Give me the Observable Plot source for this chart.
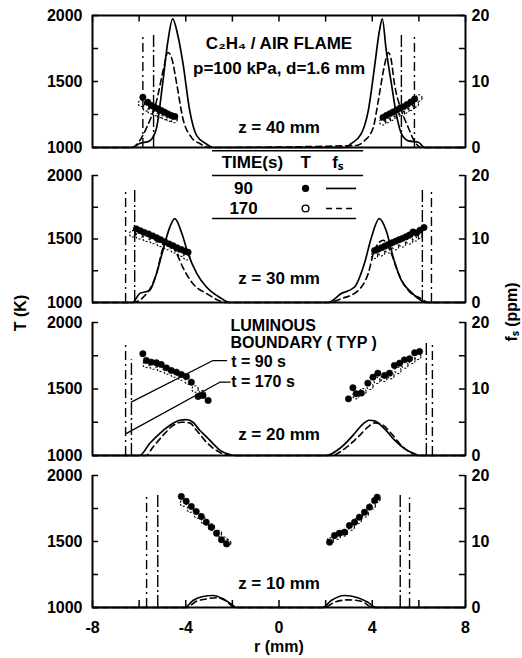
<!DOCTYPE html>
<html><head><meta charset="utf-8">
<script src="https://cdn.jsdelivr.net/npm/d3@7"></script>
<script src="https://cdn.jsdelivr.net/npm/@observablehq/plot@0.6"></script>
<style>
body{margin:0;background:#fff}
#chart{position:relative;width:522px;height:658px;background:#fff}
#chart svg{position:absolute;left:0;top:0}
</style></head><body><div id="chart"></div>
<script>
// ---------- data (r in mm, T in K, f_s in ppm) ----------
const tTicks = [1000, 1250, 1500, 1750, 2000];
const tLabels = [1000, 1500, 2000];
const rTicks = [-8, -6, -4, -2, 0, 2, 4, 6, 8];
const rLabels = [-8, -4, 0, 4, 8];

// z = 40 mm
const fs90_40 = [[-8,0],[-6.3,0],[-5.98,0.6],[-5.55,1.0],[-5.4,1.6],[-5.25,3.0],[-4.99,9.7],[-4.77,16.0],[-4.56,19.5],[-4.34,17.0],[-4.13,13.0],[-3.83,5.6],[-3.53,1.8],[-3.1,0.5],[-2.84,0],[2.84,0],[3.1,0.6],[3.53,2.1],[3.83,5.6],[4.09,12.0],[4.3,17.5],[4.43,19.5],[4.6,14.7],[4.82,9.7],[5.03,5.1],[5.25,2.1],[5.55,1.0],[5.98,0.8],[6.24,0],[8,0]];
const fs170_40 = [[-8,0],[-6.3,0],[-5.98,1.0],[-5.68,3.0],[-5.25,7.1],[-4.95,12.0],[-4.77,14.4],[-4.6,13.5],[-4.39,9.7],[-4.13,4.5],[-3.75,1.5],[-3.4,0.6],[-2.97,0],[3.31,0.3],[3.66,1.0],[4.04,3.0],[4.26,7.1],[4.5,12.0],[4.69,14.4],[4.8,13.5],[4.95,9.7],[5.25,5.6],[5.55,3.0],[5.8,1.0],[6.1,0],[8,0]];
const T90_40 = [[-5.84,1381],[-5.63,1343],[-5.48,1318],[-5.34,1306],[-5.2,1293],[-5.05,1280],[-4.91,1268],[-4.77,1255],[-4.62,1242],[-4.47,1235],[4.46,1228],[4.61,1243],[4.76,1257],[4.9,1270],[5.05,1284],[5.2,1299],[5.35,1310],[5.5,1326],[5.66,1345],[5.82,1368]];
const T170_40 = [[-5.9,1335],[-5.7,1300],[-5.5,1280],[-5.3,1265],[-5.1,1250],[-4.9,1235],[-4.7,1222],[-4.5,1212],[4.45,1195],[4.65,1212],[4.85,1230],[5.05,1248],[5.25,1265],[5.45,1285],[5.65,1305],[5.85,1330],[6.0,1375]];
const lum90_40 = [[-5.38,1864],[5.25,1860]];
const lum170_40 = [[-5.84,1833],[5.81,1850]];

// z = 30 mm
const fs90_30 = [[-8,0],[-6.28,0],[-5.98,1.4],[-5.55,1.9],[-5.25,4.6],[-4.98,8.2],[-4.69,11.8],[-4.47,13.2],[-4.17,10.9],[-3.9,7.7],[-3.53,4.6],[-3.1,2.4],[-2.54,0.8],[-2.1,0],[2.1,0],[2.67,1.4],[3.23,2.4],[3.66,6.1],[3.96,10.2],[4.3,13.2],[4.6,11.3],[4.9,7.1],[5.25,3.5],[5.68,1.6],[6.1,0.3],[6.3,0],[8,0]];
const fs170_30 = [[-8,0],[-6.28,0],[-5.68,1.4],[-5.25,4.6],[-4.98,8.5],[-4.77,9.5],[-4.39,7.7],[-4.12,5.5],[-3.7,3.0],[-3.1,1.4],[-2.25,0],[2.1,0],[2.67,0.6],[3.4,1.9],[3.83,4.6],[4.09,8.2],[4.47,9.8],[4.82,7.7],[5.12,4.6],[5.55,1.9],[6.1,0.6],[6.4,0],[8,0]];
const T90_30 = [[-6.12,1580],[-5.95,1565],[-5.78,1552],[-5.6,1540],[-5.42,1525],[-5.25,1510],[-5.08,1495],[-4.9,1478],[-4.72,1462],[-4.55,1448],[-4.38,1432],[-4.2,1418],[-4.05,1405],[-3.9,1396],[4.1,1409],[4.25,1420],[4.4,1432],[4.55,1445],[4.7,1458],[4.85,1470],[5.0,1482],[5.15,1495],[5.3,1505],[5.45,1518],[5.6,1532],[5.75,1555],[5.9,1548],[6.05,1570],[6.22,1590]];
const T170_30 = [[-6.28,1541],[-6.0,1525],[-5.7,1505],[-5.4,1488],[-5.1,1465],[-4.8,1440],[-4.5,1415],[-4.2,1388],[-3.96,1360],[4.1,1372],[4.4,1392],[4.7,1415],[5.0,1440],[5.3,1462],[5.6,1485],[5.85,1510],[6.0,1528]];
const lum90_30 = [[-6.19,1898],[6.15,1906]];
const lum170_30 = [[-6.58,1866],[6.54,1882]];

// z = 20 mm
const fs90_20 = [[-8,0],[-5.98,0],[-5.55,1.8],[-5.12,3.3],[-4.69,4.5],[-4.26,5.3],[-3.97,5.4],[-3.69,5.0],[-3.4,3.8],[-3.11,2.8],[-2.83,1.8],[-2.54,0.8],[-2.11,0.15],[-1.9,0],[2.02,0],[2.67,1.25],[3.24,3.3],[3.53,4.5],[3.88,5.3],[4.1,5.2],[4.53,4.0],[4.96,2.3],[5.39,1.0],[5.82,0.25],[6.0,0],[8,0]];
const fs170_20 = [[-8,0],[-5.7,0],[-5.41,1.25],[-4.98,3.0],[-4.55,4.5],[-4.19,5.0],[-3.83,4.9],[-3.54,3.8],[-3.11,2.0],[-2.68,0.75],[-2.25,0.1],[-1.9,0],[2.24,0],[2.81,1.0],[3.38,2.75],[3.81,4.25],[4.1,4.9],[4.39,4.7],[4.82,3.3],[5.25,1.5],[5.68,0.35],[5.9,0],[8,0]];
const T90_20 = [[-5.84,1765],[-5.69,1714],[-5.48,1702],[-5.26,1697],[-5.05,1684],[-4.83,1659],[-4.62,1639],[-4.4,1627],[-4.19,1609],[-3.97,1594],[-3.76,1551],[-3.47,1444],[-3.26,1451],[-3.04,1414],[2.98,1426],[3.17,1509],[3.31,1464],[3.53,1469],[3.81,1544],[4.03,1589],[4.24,1619],[4.53,1602],[4.74,1619],[4.95,1677],[5.17,1694],[5.38,1719],[5.6,1727],[5.82,1772],[6.03,1782]];
const T170_20 = [[-5.7,1685],[-5.4,1672],[-5.1,1655],[-4.8,1635],[-4.5,1612],[-4.2,1590],[-3.9,1560],[-3.6,1500],[-3.3,1465],[3.3,1450],[3.6,1480],[3.9,1520],[4.2,1565],[4.5,1580],[4.8,1600],[5.1,1640],[5.4,1680],[5.7,1715],[5.95,1745]];
const lum90_20 = [[-6.33,1720],[6.32,1850]];
const lum170_20 = [[-6.58,1842],[6.58,1827]];
const lead90_20 = [[-6.34,1401],[-2.83,1714],[-2.25,1714]];
const lead170_20 = [[-6.58,1163],[-2.54,1551],[-2.1,1551]];

// z = 10 mm
const fs90_10 = [[-8,0],[-4.04,0],[-3.69,1.06],[-3.26,1.67],[-2.83,1.82],[-2.4,1.31],[-1.97,0.3],[-1.85,0],[1.88,0],[2.24,1.06],[2.81,1.82],[3.38,1.47],[3.81,0.8],[4.17,0],[8,0]];
const fs170_10 = [[-8,0],[-3.97,0],[-3.54,0.95],[-3.11,1.3],[-2.68,1.47],[-2.25,0.95],[-1.9,0],[1.95,0],[2.38,0.8],[2.95,1.16],[3.53,0.95],[4.03,0],[8,0]];
const T90_10 = [[-4.19,1841],[-3.98,1805],[-3.76,1765],[-3.55,1727],[-3.33,1689],[-3.12,1646],[-2.9,1608],[-2.68,1563],[-2.47,1513],[-2.25,1482],[2.17,1495],[2.38,1545],[2.59,1563],[2.81,1571],[3.02,1621],[3.24,1646],[3.45,1684],[3.67,1722],[3.88,1760],[4.1,1811],[4.21,1836]];
const T170_10 = [[-4.1,1790],[-3.8,1745],[-3.5,1700],[-3.2,1655],[-2.9,1610],[-2.6,1560],[-2.35,1510],[-2.2,1490],[2.2,1505],[2.5,1540],[2.8,1565],[3.1,1610],[3.4,1660],[3.7,1710],[4.0,1770],[4.2,1820]];
const lum90_10 = [[-5.2,1848],[5.2,1850]];
const lum170_10 = [[-5.68,1833],[5.6,1830]];

// texts
const titleLines = ["C\u2082H\u2084 / AIR FLAME", "p=100 kPa, d=1.6 mm"];
const legendHeader = ["TIME(s)", "T", "f\u209B"];
const legendTimes = ["90", "170"];
const lumLines = ["LUMINOUS", "BOUNDARY ( TYP )"];
const leaderLabels = ["t = 90 s", "t = 170 s"];

// ---------- layout ----------
const W = 522, H = 658, ML = 92, MR = 57;
const FONT = {fontFamily: "'Liberation Sans', Arial, Helvetica, sans-serif", fontWeight: "bold", fontSize: "16px", background: "transparent", overflow: "visible"};
const X = d => d[0];
const YT = d => d[1];
const YF = d => 1000 + 50 * d[1]; // f_s 0–20 ppm shares the 1000–2000 K frame

const PANELS = [
  {z: 40, top: 15, bottom: 147, fs90: fs90_40, fs170: fs170_40, T90: T90_40, T170: T170_40, lum90: lum90_40, lum170: lum170_40, label: "z = 40 mm", labelY: 1152},
  {z: 30, top: 175, bottom: 302, fs90: fs90_30, fs170: fs170_30, T90: T90_30, T170: T170_30, lum90: lum90_30, lum170: lum170_30, label: "z = 30 mm", labelY: 1189},
  {z: 20, top: 322, bottom: 455, fs90: fs90_20, fs170: fs170_20, T90: T90_20, T170: T170_20, lum90: lum90_20, lum170: lum170_20, label: "z = 20 mm", labelY: 1158},
  {z: 10, top: 475, bottom: 607, fs90: fs90_10, fs170: fs170_10, T90: T90_10, T170: T170_10, lum90: lum90_10, lum170: lum170_10, label: "z = 10 mm", labelY: 1182}
];

function panelMarks(p) {
  return [
    Plot.ruleY([1000], {x1: -8, x2: 8, strokeWidth: 2}),
    Plot.ruleX([-8, 8], {y1: 1000, y2: 2000, strokeWidth: 2}),
    Plot.ruleY(tTicks, {x1: -8, x2: -7.74, strokeWidth: 1.5}),
    Plot.ruleY(tTicks, {x1: 7.74, x2: 8, strokeWidth: 1.5}),
    Plot.axisY(tLabels, {tickSize: 0, tickPadding: 10, tickFormat: d => String(d), label: null}),
    Plot.axisY(tLabels, {anchor: "right", tickSize: 0, tickPadding: 6, tickFormat: d => String((d - 1000) / 50), label: null}),
    Plot.ruleX(p.lum170, {x: X, y1: 1000, y2: YT, strokeWidth: 1.4, strokeDasharray: "9,4,2,4"}),
    Plot.ruleX(p.lum90, {x: X, y1: 1000, y2: YT, strokeWidth: 1.4, strokeDasharray: "12,3,2,3"}),
    Plot.line(p.fs170, {x: X, y: YF, stroke: "black", strokeWidth: 1.6, strokeDasharray: "6,4", curve: "monotone-x"}),
    Plot.line(p.fs90, {x: X, y: YF, stroke: "black", strokeWidth: 1.7, curve: "monotone-x"}),
    Plot.dot(p.T170, {x: X, y: YT, r: 3.2, stroke: "black", strokeWidth: 1.1, strokeDasharray: "2,1.5", fill: "none"}),
    Plot.dot(p.T90, {x: X, y: YT, r: 3.2, fill: "black", stroke: "black", strokeWidth: 0.5}),
    Plot.text([p.label], {x: 0, y: p.labelY, text: d => d, fontSize: 17})
  ];
}

function extraMarks(p) {
  if (p.z === 40) return [
    Plot.ruleY([2000], {x1: -8, x2: 8, strokeWidth: 2}),
    Plot.ruleX(rTicks, {y1: 2000, y2: 1950, strokeWidth: 1.5}),
    Plot.text(titleLines, {x: 0, y: (d, i) => [1788, 1598][i], text: d => d, fontSize: 17})
  ];
  if (p.z === 30) return [
    Plot.ruleY([2195], {x1: -2.85, x2: 3.63, strokeWidth: 1.5}),
    Plot.ruleY([2000], {x1: -2.85, x2: 3.63, strokeWidth: 1.5}),
    Plot.ruleY([1661], {x1: -2.85, x2: 3.33, strokeWidth: 1.5}),
    Plot.text(legendHeader, {x: (d, i) => [-1.14, 1.14, 2.51][i], y: 2102, text: d => d, fontSize: 17}),
    Plot.text(legendTimes, {x: -1.52, y: (d, i) => [1898, 1740][i], text: d => d, fontSize: 17}),
    Plot.dot([legendTimes[0]], {x: 1.14, y: 1898, r: 3.6, fill: "black"}),
    Plot.dot([legendTimes[1]], {x: 1.14, y: 1740, r: 3.4, stroke: "black", strokeWidth: 1.4, fill: "none"}),
    Plot.ruleY([1898], {x1: 2.04, x2: 3.33, strokeWidth: 1.7}),
    Plot.ruleY([1740], {x1: 2.04, x2: 3.33, strokeWidth: 1.6, strokeDasharray: "6,4"}),
    Plot.text(["T (K)"], {frameAnchor: "left", textAnchor: "middle", dx: -72, dy: 74, rotate: -90, text: d => d, fontSize: 16}),
    Plot.text(["f\u209B (ppm)"], {frameAnchor: "right", textAnchor: "middle", dx: 46, dy: 73, rotate: -90, text: d => d, fontSize: 16})
  ];
  if (p.z === 20) return [
    Plot.line(lead90_20, {x: X, y: YT, strokeWidth: 1.3}),
    Plot.line(lead170_20, {x: X, y: YT, strokeWidth: 1.3}),
    Plot.text(lumLines, {x: -2.08, y: (d, i) => [1977, 1850][i], text: d => d, textAnchor: "start", fontSize: 16}),
    Plot.text(leaderLabels, {x: -2.05, y: (d, i) => [1707, 1551][i], text: d => d, textAnchor: "start", fontSize: 16})
  ];
  return [
    Plot.ruleX(rTicks, {y1: 1000, y2: 1053, strokeWidth: 1.5}),
    Plot.axisX(rLabels, {tickSize: 0, tickPadding: 14, tickFormat: d => String(d), label: null}),
    Plot.text(["r (mm)"], {frameAnchor: "bottom", dy: 44, text: d => d, fontSize: 16})
  ];
}

const root = document.getElementById("chart");
for (const p of PANELS) {
  const svg = Plot.plot({
    width: W, height: H,
    marginTop: p.top, marginBottom: H - p.bottom, marginLeft: ML, marginRight: MR,
    x: {domain: [-8, 8], axis: null},
    y: {domain: [1000, 2000], axis: null},
    style: FONT,
    marks: [...panelMarks(p), ...extraMarks(p)]
  });
  root.appendChild(svg);
}
</script></body></html>
